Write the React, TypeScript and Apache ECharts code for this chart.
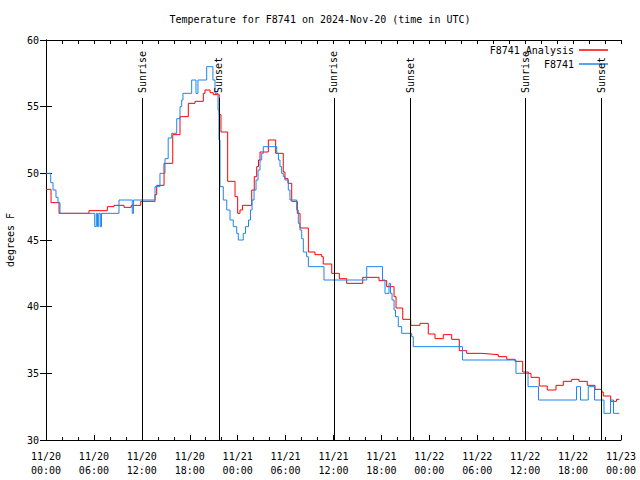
import React, { useEffect, useRef } from "react";
import * as echarts from "echarts";

const title = "Temperature for F8741 on 2024-Nov-20 (time in UTC)";
const yAxisName = "degrees F";
const seriesNames = ["F8741 Analysis", "F8741"];
const seriesColors = ["#ff0000", "#1a86f0"];

const xTickLabels = [
  "11/20\n00:00", "11/20\n06:00", "11/20\n12:00", "11/20\n18:00",
  "11/21\n00:00", "11/21\n06:00", "11/21\n12:00", "11/21\n18:00",
  "11/22\n00:00", "11/22\n06:00", "11/22\n12:00", "11/22\n18:00",
  "11/23\n00:00",
];

// hours since 11/20 00:00 UTC
const redHours = [0, 0.63, 1.63, 5.38, 7.68, 8.51, 9.77, 10.68, 11.86, 13.65, 13.86, 14.78, 15.87, 16.78, 17.82, 18.66, 19.7, 19.91, 20.54, 20.95, 21.7, 21.91, 22.75, 23.67, 24.0, 24.29, 24.6, 25.76, 26.08, 26.38, 26.61, 26.8, 27.84, 28.76, 29.71, 29.92, 30.3, 30.77, 31.47, 31.81, 32.85, 33.68, 34.52, 34.72, 35.78, 36.73, 37.65, 39.66, 41.7, 42.66, 43.58, 43.83, 44.67, 45.67, 46.83, 47.87, 48.71, 49.75, 50.8, 51.75, 52.68, 54.56, 55.6, 56.64, 57.69, 58.73, 59.69, 60.39, 60.73, 61.77, 62.77, 63.86, 64.78, 65.83, 66.74, 67.78, 68.75, 69.58, 69.78, 70.71, 71.44, 71.79];
const redTemps = [48.8, 47.8, 47.0, 47.2, 47.5, 47.6, 47.45, 47.6, 47.9, 48.4, 49.1, 50.75, 52.9, 54.25, 55.25, 55.4, 56.0, 56.25, 56.05, 55.9, 54.4, 53.1, 49.4, 48.25, 47.0, 47.25, 47.6, 48.75, 49.75, 50.5, 51.0, 51.6, 52.5, 51.5, 50.1, 49.6, 49.25, 47.9, 47.0, 45.9, 44.1, 43.9, 43.75, 43.2, 42.5, 42.1, 41.75, 42.2, 41.95, 41.5, 40.75, 39.9, 39.05, 38.6, 38.75, 37.95, 37.6, 37.9, 37.55, 36.7, 36.5, 36.45, 36.4, 36.25, 36.05, 35.9, 35.1, 35.0, 34.7, 34.05, 33.75, 34.1, 34.4, 34.55, 34.4, 34.1, 33.8, 33.6, 33.3, 32.9, 33.05, 33.1];

const blueHours = [0, 0.59, 0.88, 1.25, 1.5, 1.75, 6.1, 6.3, 6.45, 6.6, 6.8, 6.95, 9.14, 10.8, 10.95, 13.65, 14.27, 14.9, 15.3, 15.74, 16.37, 16.78, 16.99, 17.15, 18.24, 18.78, 19.03, 20.12, 20.9, 21.16, 21.54, 21.66, 21.79, 22.2, 22.63, 23.04, 23.45, 23.88, 24.08, 24.7, 24.98, 25.36, 25.61, 25.8, 26.05, 26.3, 26.55, 26.8, 27.01, 27.21, 28.89, 29.1, 29.3, 29.51, 29.71, 29.92, 30.34, 30.55, 31.39, 31.59, 31.8, 32.02, 32.22, 32.64, 32.85, 34.81, 40.16, 42.14, 42.45, 42.95, 43.14, 43.33, 43.58, 43.76, 44.11, 44.54, 45.79, 45.99, 52.15, 58.85, 60.36, 61.67, 66.43, 66.93, 67.9, 68.68, 69.87, 70.69, 71.06, 71.79];
const blueTemps = [50.0, 49.3, 48.75, 48.2, 47.8, 47.0, 46.0, 47.0, 46.0, 47.0, 46.0, 47.0, 48.0, 47.0, 48.0, 49.0, 50.0, 51.1, 52.65, 53.0, 54.1, 55.0, 55.5, 56.0, 57.0, 56.0, 57.0, 58.0, 57.0, 56.0, 54.75, 52.5, 49.0, 48.0, 47.25, 46.5, 46.0, 45.5, 45.0, 45.5, 46.0, 46.5, 47.25, 48.0, 48.75, 49.5, 50.25, 51.0, 51.5, 52.0, 51.5, 51.0, 50.5, 50.0, 49.75, 49.5, 48.75, 48.0, 47.25, 46.25, 45.75, 45.1, 44.1, 43.75, 43.0, 42.0, 43.0, 42.0, 41.0, 41.75, 41.0, 40.5, 39.75, 39.25, 38.5, 38.0, 37.75, 37.0, 36.0, 35.0, 34.0, 33.0, 34.0, 33.0, 34.0, 33.0, 32.0, 33.0, 32.0, 32.0];

const sunNames = ["Sunrise", "Sunset", "Sunrise", "Sunset", "Sunrise", "Sunset"];
const sunHours = [12.05, 21.66, 36.06, 45.6, 60.0, 69.55];

const FONT = "DejaVu Sans Mono";
const X_MIN = 0, X_MAX = 72, Y_MIN = 30, Y_MAX = 60;
const LINE_TOP = 55.65;
const LABEL_START = 56.02;

export default function App() {
  const ref = useRef<HTMLDivElement>(null);
  useEffect(() => {
    if (!ref.current) return;
    const chart = echarts.init(ref.current, null, { renderer: "svg" });
    const toPairs = (h: number[], t: number[]) => h.map((x, i) => [x, t[i]]);

    const markData: any[] = [];
    sunHours.forEach((h, i) => {
      markData.push([
        { coord: [h, Y_MIN], label: { show: false } },
        { coord: [h, LINE_TOP] },
      ]);
      markData.push([
        {
          coord: [h, LABEL_START],
          lineStyle: { color: "rgba(0,0,0,0)", width: 1 },
          label: {
            show: true,
            position: "insideStart",
            formatter: sunNames[i],
            distance: [0, 0],
            color: "#000",
            opacity: 1,
            fontFamily: FONT,
            fontSize: 10,
          },
        },
        { coord: [h, Y_MAX] },
      ]);
    });

    const axisCommon = {
      axisLine: { show: true, lineStyle: { color: "#000", width: 1 } },
      splitLine: { show: false },
    };

    const option: any = {
      animation: false,
      backgroundColor: "#fff",
      title: {
        text: title,
        left: "center",
        top: 9,
        textStyle: { fontFamily: FONT, fontSize: 10, fontWeight: "normal", color: "#000" },
      },
      legend: [
        {
          data: [seriesNames[0]],
          right: 27,
          top: 40,
          align: "right",
          icon: "rect",
          itemWidth: 29,
          itemHeight: 1.5,
          textStyle: { fontFamily: FONT, fontSize: 10, color: "#000" },
          selectedMode: false,
        },
        {
          data: [seriesNames[1]],
          right: 27,
          top: 54,
          align: "right",
          icon: "rect",
          itemWidth: 29,
          itemHeight: 1.5,
          textStyle: { fontFamily: FONT, fontSize: 10, color: "#000" },
          selectedMode: false,
        },
      ],
      grid: { left: 46, right: 19, top: 40, bottom: 40, containLabel: false, outerBoundsMode: "none" },
      xAxis: [
        {
          type: "value",
          min: X_MIN,
          max: X_MAX,
          interval: 6,
          position: "bottom",
          ...axisCommon,
          axisTick: { show: true, inside: true, length: 5, lineStyle: { color: "#000" } },
          minorTick: { show: true, splitNumber: 3, length: 3, lineStyle: { color: "#000" } },
          axisLabel: {
            fontFamily: FONT,
            fontSize: 10,
            color: "#000",
            lineHeight: 14,
            margin: 9,
            formatter: (v: number) => xTickLabels[Math.round(v / 6)] ?? "",
          },
        },
        {
          type: "value",
          min: X_MIN,
          max: X_MAX,
          interval: 6,
          position: "top",
          ...axisCommon,
          axisTick: { show: true, inside: true, length: 4, lineStyle: { color: "#000" } },
          minorTick: { show: true, splitNumber: 3, length: 4, lineStyle: { color: "#000" } },
          axisLabel: { show: false },
        },
      ],
      yAxis: [
        {
          type: "value",
          min: Y_MIN,
          max: Y_MAX,
          interval: 5,
          position: "left",
          name: yAxisName,
          nameLocation: "middle",
          nameRotate: 90,
          nameGap: 31,
          nameTextStyle: { fontFamily: FONT, fontSize: 10, color: "#000" },
          ...axisCommon,
          axisTick: { show: true, inside: true, length: 6, lineStyle: { color: "#000" } },
          axisLabel: { fontFamily: FONT, fontSize: 10, color: "#000", margin: 7 },
        },
        {
          type: "value",
          min: Y_MIN,
          max: Y_MAX,
          interval: 5,
          position: "right",
          ...axisCommon,
          axisTick: { show: true, inside: true, length: 6, lineStyle: { color: "#000" } },
          axisLabel: { show: false },
        },
      ],
      series: [
        {
          name: seriesNames[0],
          type: "line",
          step: "end",
          showSymbol: false,
          symbol: "none",
          color: seriesColors[0],
          lineStyle: { width: 1, color: seriesColors[0] },
          data: toPairs(redHours, redTemps),
          silent: true,
          z: 2,
        },
        {
          name: seriesNames[1],
          type: "line",
          step: "end",
          showSymbol: false,
          symbol: "none",
          color: seriesColors[1],
          lineStyle: { width: 1, color: seriesColors[1] },
          data: toPairs(blueHours, blueTemps),
          silent: true,
          z: 3,
          markLine: {
            silent: true,
            symbol: ["none", "none"],
            lineStyle: { color: "#000", width: 1, type: "solid" },
            label: { show: false },
            data: markData,
          },
        },
      ],
    };
    chart.setOption(option);
    return () => chart.dispose();
  }, []);

  return (
    <div
      ref={ref}
      style={{ position: "fixed", left: 0, top: 0, width: 640, height: 480, background: "#fff" }}
    />
  );
}
